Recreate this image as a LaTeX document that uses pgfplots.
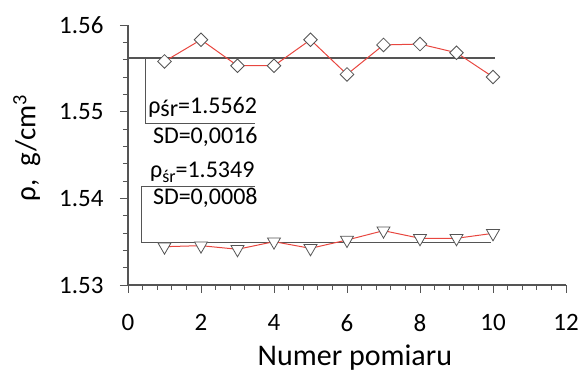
\documentclass[border=0pt]{standalone}
\usepackage{fontspec}
\setmainfont{Carlito}
\usepackage{pgfplots}
\pgfplotsset{compat=1.18}
\definecolor{redl}{HTML}{E8463F}
\definecolor{axgray}{HTML}{555555}
\begin{document}
\begin{tikzpicture}
\useasboundingbox (-128bp,-87bp) rectangle (452bp,285bp);
\begin{axis}[
 scale only axis, width=438bp, height=260bp,
 xmin=0, xmax=12, ymin=1.53, ymax=1.56,
 axis x line=bottom, axis y line=left,
 axis line style={axgray, line width=1.1pt, -},
 xtick={0,2,...,12}, ytick={1.53,1.54,1.55,1.56},
 minor x tick num=4, minor y tick num=4,
 tick align=outside,
 major tick length=8bp, minor tick length=5bp,
 tick style={axgray, line width=0.9pt},
 /pgf/number format/assume math mode=true,
 ticklabel style={font=\fontsize{25bp}{30bp}\selectfont},
 yticklabel style={xshift=-13bp, /pgf/number format/.cd, fixed, fixed zerofill, precision=2},
 xticklabel shift=18bp,
 xlabel={Numer pomiaru},
 ylabel={ρ,\ \ g/cm\textsuperscript{3}},
 label style={font=\fontsize{29bp}{34bp}\selectfont},
 xlabel style={at={(axis description cs:0.518,-0.308)}, anchor=base, font=\fontsize{30bp}{34bp}\selectfont},
 ylabel style={at={(axis description cs:-0.231,0.527)}, anchor=center},
 clip=false,
]
% mean lines
\addplot[axgray, line width=1.3pt] coordinates {(0,1.5562) (10.05,1.5562)};
\addplot[axgray, line width=1.0pt] coordinates {(0.38,1.5349) (9.95,1.5349)};
% annotation frames
\draw[axgray, line width=1pt] (axis cs:0.47,1.5562) -- (axis cs:0.47,1.54866) -- (axis cs:3.48,1.54866);
\draw[axgray, line width=1pt] (axis cs:3.48,1.54134) -- (axis cs:0.38,1.54134) -- (axis cs:0.38,1.5349);
% data
\addplot[redl, line width=1pt, mark=square*, mark size=4.8bp,
  mark options={rotate=45, fill=white, draw=axgray, line width=0.8pt}]
  coordinates {(1,1.5558) (2,1.5583) (3,1.5553) (4,1.5553) (5,1.5583)
               (6,1.5543) (7,1.5577) (8,1.5578) (9,1.5568) (10,1.5540)};
\addplot[redl, line width=1pt, mark=triangle*, mark size=7.5bp,
  mark options={rotate=180, fill=white, draw=axgray, line width=0.8pt}]
  coordinates {(1,1.53442) (2,1.53454) (3,1.53412) (4,1.5350) (5,1.53423)
               (6,1.53519) (7,1.53627) (8,1.53539) (9,1.53539) (10,1.53596)};
% texts
\node[anchor=west, inner sep=0pt, font=\fontsize{24bp}{28bp}\selectfont]
  at (axis cs:0.55,1.55054) {ρ\raisebox{-0.25ex}{śr}=1.5562};
\node[anchor=west, inner sep=0pt, font=\fontsize{24bp}{28bp}\selectfont]
  at (axis cs:0.68,1.54714) {SD=0,0016};
\node[anchor=west, inner sep=0pt, font=\fontsize{24bp}{28bp}\selectfont]
  at (axis cs:0.6,1.54304) {ρ\raisebox{-0.4ex}{\fontsize{18bp}{20bp}\selectfont śr}=1.5349};
\node[anchor=west, inner sep=0pt, font=\fontsize{24bp}{28bp}\selectfont]
  at (axis cs:0.68,1.54004) {SD=0,0008};
\end{axis}
\end{tikzpicture}
\end{document}
